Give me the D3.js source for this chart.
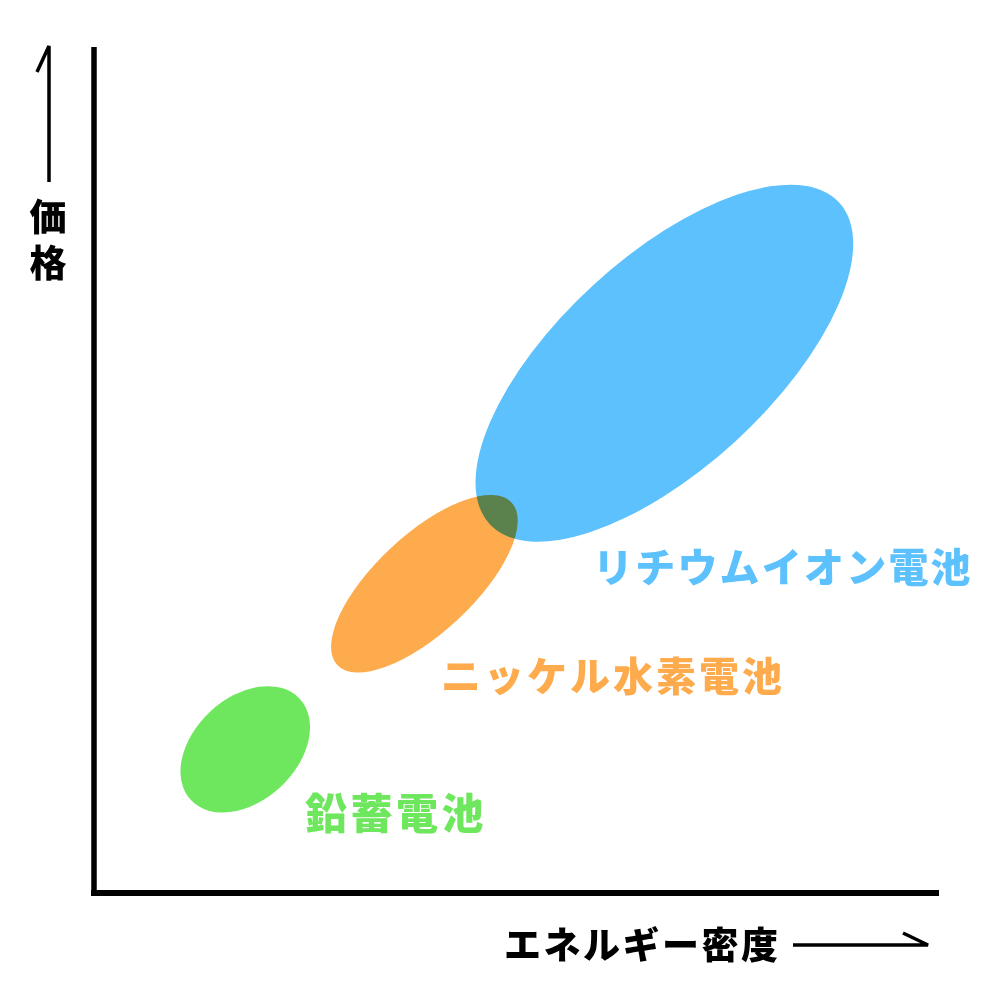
<!DOCTYPE html>
<html>
<head>
<meta charset="utf-8">
<script src="https://cdn.jsdelivr.net/npm/d3@7"></script>
<style>
  html, body { margin: 0; padding: 0; background: #fff; }
  svg { display: block; }
  text { font-family: "Noto Sans CJK JP", "Noto Sans", sans-serif; font-weight: 900; }
</style>
</head>
<body>
<svg id="chart" width="1000" height="1000"></svg>
<script>
// battery types and where they sit (energy density / price, 0-100 abstract units)
const batteries = ["鉛蓄電池", "ニッケル水素電池", "リチウムイオン電池"];
const energyDensity = [17.9, 39.1, 67.5];
const price = [17.0, 36.6, 62.7];
// spread of each blob along its main and cross axis (same units), and tilt in degrees
const spreadMajor = [8.8, 14.1, 28.1];
const spreadMinor = [6.1, 5.8, 12.5];
const tilt = [43, 43, 42.6];
const colors = ["#6ee65d", "#fdab4c", "#5cc1fd"];

const xLabel = "エネルギー密度";
const yLabel = "価格";

const svg = d3.select("#chart");

const x = d3.scaleLinear().domain([0, 100]).range([94, 939]);
const y = d3.scaleLinear().domain([0, 100]).range([893, 48]);
const unit = x(1) - x(0);

const data = batteries.map((name, i) => ({
    name: name,
    x: energyDensity[i],
    y: price[i],
    a: spreadMajor[i],
    b: spreadMinor[i],
    angle: tilt[i],
    color: colors[i]
}));

// blobs, multiply so the overlap goes dark
svg.append("g")
    .selectAll("ellipse")
    .data(data.slice().reverse())
    .enter()
    .append("ellipse")
    .attr("cx", 0)
    .attr("cy", 0)
    .attr("rx", d => d.a * unit)
    .attr("ry", d => d.b * unit)
    .attr("transform", d => "translate(" + x(d.x) + "," + y(d.y) + ") rotate(" + (-d.angle) + ")")
    .style("fill", d => d.color)
    .style("mix-blend-mode", "multiply");

// axes
svg.append("line")
    .attr("x1", x(0)).attr("y1", y(0) + 3)
    .attr("x2", x(0)).attr("y2", y(100) - 1)
    .style("stroke", "#000").style("stroke-width", "5.5px");
svg.append("line")
    .attr("x1", x(0) - 3).attr("y1", y(0))
    .attr("x2", x(100)).attr("y2", y(0))
    .style("stroke", "#000").style("stroke-width", "6px");

// labels next to each blob
const labelPos = [
    {x: 305, y: 829, size: 42, spacing: 3.5},
    {x: 441, y: 691, size: 40, spacing: 3},
    {x: 593, y: 582, size: 40, spacing: 2.2}
];
svg.append("g")
    .selectAll("text")
    .data(data)
    .enter()
    .append("text")
    .attr("x", (d, i) => labelPos[i].x)
    .attr("y", (d, i) => labelPos[i].y)
    .style("font-size", (d, i) => labelPos[i].size + "px")
    .style("letter-spacing", (d, i) => labelPos[i].spacing + "px")
    .style("fill", d => d.color)
    .text(d => d.name);

// x axis title with arrow
svg.append("text")
    .attr("x", 504)
    .attr("y", 959)
    .style("font-size", "37px")
    .style("letter-spacing", "2.5px")
    .style("fill", "#000")
    .text(xLabel);

const arrow = svg.append("g")
    .style("stroke", "#000")
    .style("stroke-width", "3.5px")
    .style("fill", "none");
arrow.append("path").attr("d", "M793,945 L928,945 L903,933");
arrow.append("path").attr("d", "M49,182 L49,46 L37,72");

// y axis title, stacked vertically
svg.append("text")
    .attr("x", 48)
    .attr("y", 198)
    .style("writing-mode", "vertical-rl")
    .style("font-size", "37px")
    .style("letter-spacing", "9px")
    .style("fill", "#000")
    .text(yLabel);
</script>
</body>
</html>
